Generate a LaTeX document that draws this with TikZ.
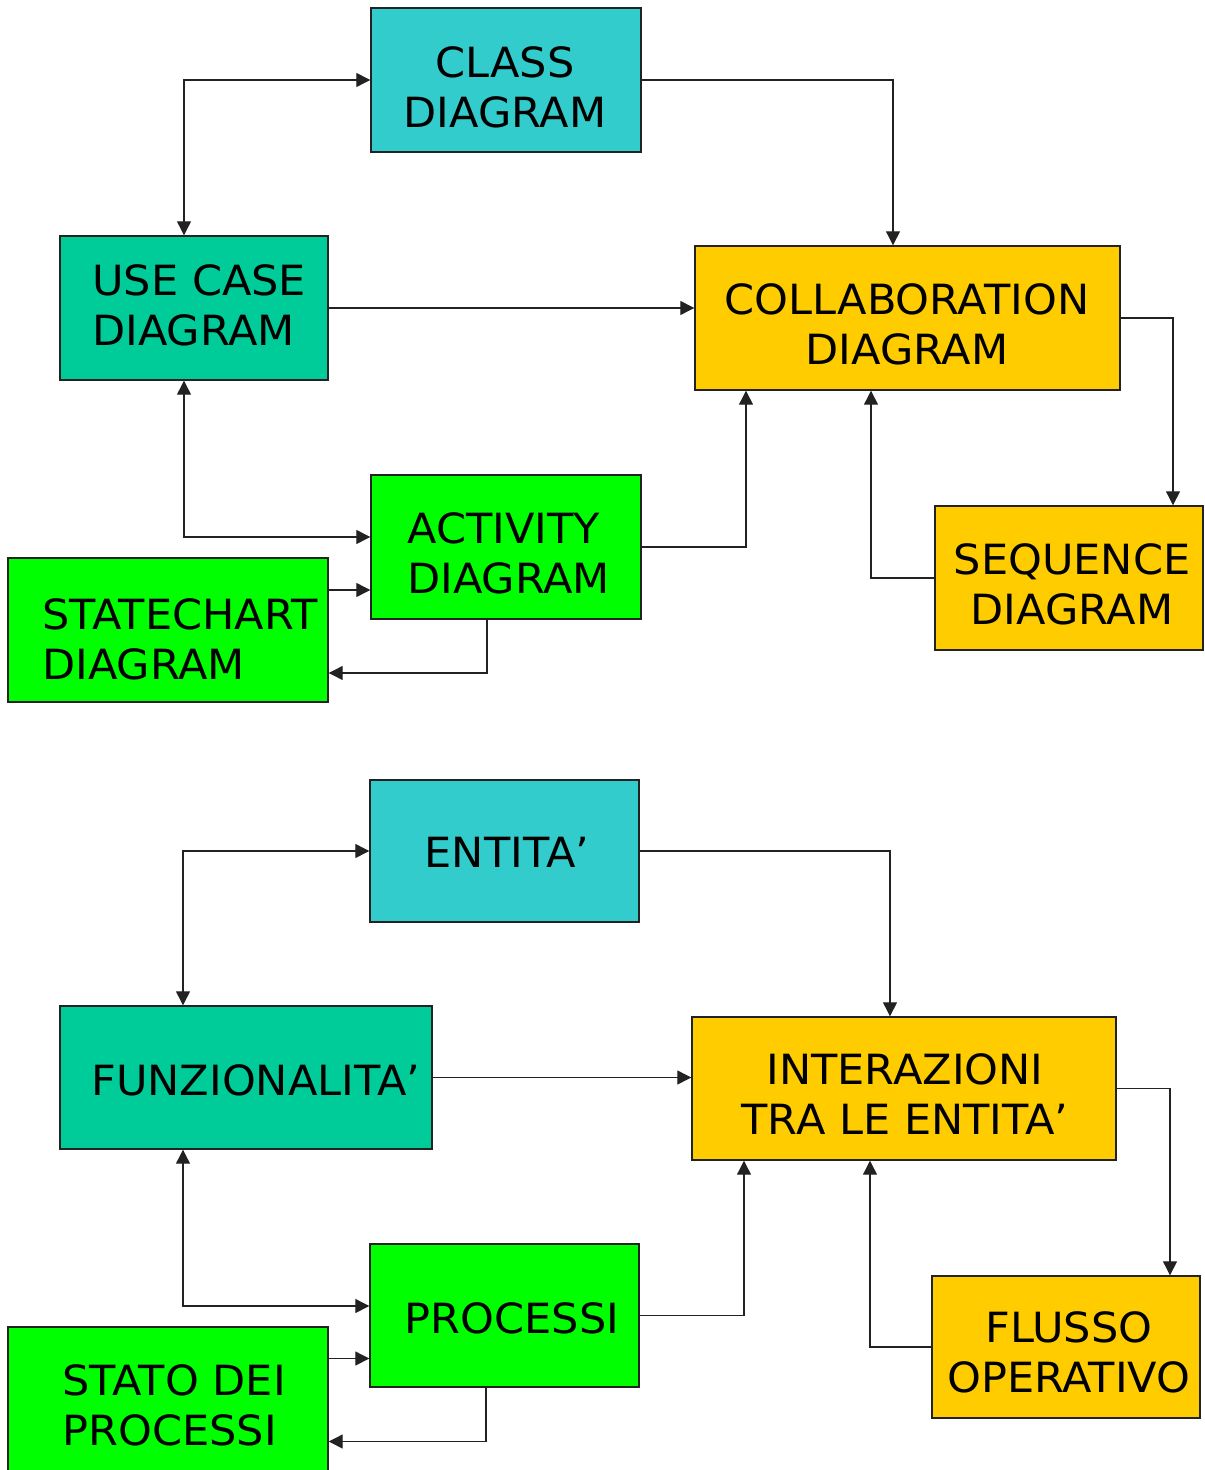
\documentclass[tikz,border=0pt]{standalone}
\usepackage{fontspec}
\setmainfont[FakeStretch=1.035]{DejaVu Sans}
\usetikzlibrary{arrows.meta}
\definecolor{cyanbox}{HTML}{33CCCC}
\definecolor{tealbox}{HTML}{00CC99}
\definecolor{yellowbox}{HTML}{FFCC00}
\definecolor{greenbox}{HTML}{00FF00}
\definecolor{edge}{HTML}{222222}
\begin{document}
\begin{tikzpicture}[x=0.5pt,y=-0.5pt,
  box/.style={draw=edge,line width=0.7pt,rectangle,inner sep=0pt},
  lbl/.style={inner sep=0pt,font=\fontsize{20.8}{25}\selectfont},
  conn/.style={draw=edge,line width=0.6pt,-{Triangle[length=7pt,width=7pt]}},
  conn2/.style={draw=edge,line width=0.6pt,{Triangle[length=7pt,width=7pt]}-{Triangle[length=7pt,width=7pt]}}]
\useasboundingbox (0,0) rectangle (1204,1470);
\begin{scope}
\clip (0,0) rectangle (1204,1470);
% ---------- top diagram ----------
\node[box,fill=cyanbox,minimum width=135pt,minimum height=72pt] (cls) at (506,80) {};
\node[box,fill=tealbox,minimum width=134pt,minimum height=72pt] (uc) at (194,308) {};
\node[box,fill=yellowbox,minimum width=212.5pt,minimum height=72pt] (col) at (907.5,318) {};
\node[box,fill=greenbox,minimum width=135pt,minimum height=72pt] (act) at (506,547) {};
\node[box,fill=greenbox,minimum width=160pt,minimum height=72pt] (sc) at (168,630) {};
\node[box,fill=yellowbox,minimum width=134pt,minimum height=72pt] (seq) at (1069,578) {};

\node[lbl,align=center] (clst) at (505,87) {CLASS\\DIAGRAM};
\node[lbl,align=left,anchor=west] (uct) at (92,305) {USE CASE\\DIAGRAM};
\node[lbl,align=center] (colt) at (907,324) {COLLABORATION\\DIAGRAM};
\node[lbl,align=left,anchor=west] (actt) at (407,553) {ACTIVITY\\DIAGRAM};
\node[lbl,align=left,anchor=west] (sct) at (42,639) {STATECHART\\DIAGRAM};
\node[lbl,align=center] (seqt) at (1072,584) {SEQUENCE\\DIAGRAM};

\draw[conn2] ([xshift=-5pt]uc.north) |- (cls.west);
\draw[conn] (cls.east) -| ([xshift=-7.25pt]col.north);
\draw[conn] (uc.east) -- (uc.east -| col.west);
\draw[conn2] ([xshift=-5pt]uc.south) |- ([yshift=5pt]act.west);
\draw[conn] ([yshift=20pt]sc.east) -- ([yshift=20pt]sc.east -| act.west);
\draw[conn] ([xshift=-9.5pt]act.south) |- ([yshift=-21.5pt]sc.east);
\draw[conn] (act.east) -| ([xshift=-80.75pt]col.south);
\draw[conn] (seq.west) -| ([xshift=-18.25pt]col.south);
\draw[conn] (col.east) -| ([xshift=52pt]seq.north);

% ---------- bottom diagram ----------
\node[box,fill=cyanbox,minimum width=134.5pt,minimum height=71pt] (ent) at (504.5,851) {};
\node[box,fill=tealbox,minimum width=186pt,minimum height=71.5pt] (fun) at (246,1077.5) {};
\node[box,fill=yellowbox,minimum width=212pt,minimum height=71.5pt] (int) at (904,1088.5) {};
\node[box,fill=greenbox,minimum width=134.5pt,minimum height=71.5pt] (pro) at (504.5,1315.5) {};
\node[box,fill=greenbox,minimum width=160pt,minimum height=72pt] (sdp) at (168,1399) {};
\node[box,fill=yellowbox,minimum width=134pt,minimum height=71pt] (flu) at (1066,1347) {};

\node[lbl,align=center] (entt) at (507,852) {ENTITA’};
\node[lbl,align=left,anchor=west] (funt) at (91,1080) {FUNZIONALITA’};
\node[lbl,align=center] (intt) at (905,1094) {INTERAZIONI\\TRA LE ENTITA’};
\node[lbl,align=center] (prot) at (512,1318) {PROCESSI};
\node[lbl,align=left,anchor=west] (sdpt) at (62,1405) {STATO DEI\\PROCESSI};
\node[lbl,align=center] (flut) at (1069,1352) {FLUSSO\\OPERATIVO};

\draw[conn2] ([xshift=-31.5pt]fun.north) |- (ent.west);
\draw[conn] (ent.east) -| ([xshift=-7pt]int.north);
\draw[conn] (fun.east) -- (fun.east -| int.west);
\draw[conn2] ([xshift=-31.5pt]fun.south) |- ([yshift=4.75pt]pro.west);
\draw[conn] ([yshift=20.25pt]sdp.east) -- ([yshift=20.25pt]sdp.east -| pro.west);
\draw[conn] ([xshift=-9.25pt]pro.south) |- ([yshift=-21.25pt]sdp.east);
\draw[conn] (pro.east) -| ([xshift=-80pt]int.south);
\draw[conn] (flu.west) -| ([xshift=-17pt]int.south);
\draw[conn] (int.east) -| ([xshift=52pt]flu.north);
\end{scope}
\end{tikzpicture}
\end{document}
